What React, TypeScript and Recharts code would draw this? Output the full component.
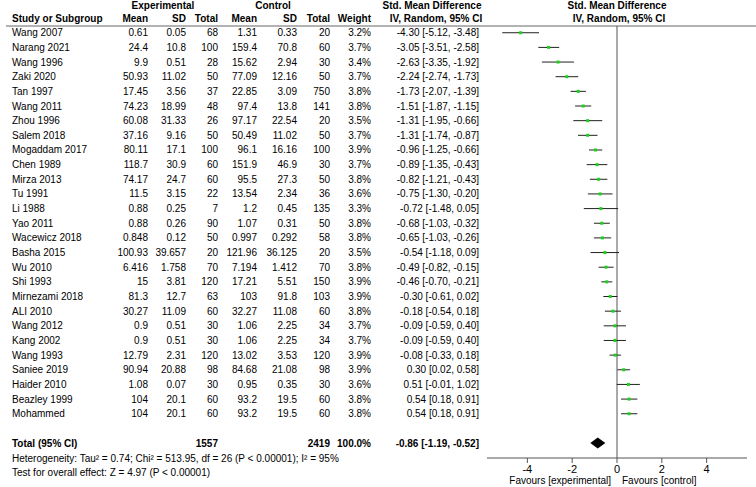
import { ScatterChart, Scatter, XAxis, YAxis, ErrorBar, ReferenceLine } from "recharts";

const studies = ["Wang 2007", "Narang 2021", "Wang 1996", "Zaki 2020", "Tan 1997", "Wang 2011", "Zhou 1996", "Salem 2018", "Mogaddam 2017", "Chen 1989", "Mirza 2013", "Tu 1991", "Li 1988", "Yao 2011", "Wacewicz 2018", "Basha 2015", "Wu 2010", "Shi 1993", "Mirnezami 2018", "ALI 2010", "Wang 2012", "Kang 2002", "Wang 1993", "Saniee 2019", "Haider 2010", "Beazley 1999", "Mohammed"];
const expMean = [0.61, 24.4, 9.9, 50.93, 17.45, 74.23, 60.08, 37.16, 80.11, 118.7, 74.17, 11.5, 0.88, 0.88, 0.848, 100.93, 6.416, 15, 81.3, 30.27, 0.9, 0.9, 12.79, 90.94, 1.08, 104, 104];
const expSD = [0.05, 10.8, 0.51, 11.02, 3.56, 18.99, 31.33, 9.16, 17.1, 30.9, 24.7, 3.15, 0.25, 0.26, 0.12, 39.657, 1.758, 3.81, 12.7, 11.09, 0.51, 0.51, 2.31, 20.88, 0.07, 20.1, 20.1];
const expN = [68, 100, 28, 50, 37, 48, 26, 50, 100, 60, 60, 22, 7, 90, 50, 20, 70, 120, 63, 60, 30, 30, 120, 98, 30, 60, 60];
const ctlMean = [1.31, 159.4, 15.62, 77.09, 22.85, 97.4, 97.17, 50.49, 96.1, 151.9, 95.5, 13.54, 1.2, 1.07, 0.997, 121.96, 7.194, 17.21, 103, 32.27, 1.06, 1.06, 13.02, 84.68, 0.95, 93.2, 93.2];
const ctlSD = [0.33, 70.8, 2.94, 12.16, 3.09, 13.8, 22.54, 11.02, 16.16, 46.9, 27.3, 2.34, 0.45, 0.31, 0.292, 36.125, 1.412, 5.51, 91.8, 11.08, 2.25, 2.25, 3.53, 21.08, 0.35, 19.5, 19.5];
const ctlN = [20, 60, 30, 50, 750, 141, 20, 50, 100, 30, 50, 36, 135, 50, 58, 20, 70, 150, 103, 60, 34, 34, 120, 98, 30, 60, 60];
const weights = [3.2, 3.7, 3.4, 3.7, 3.8, 3.8, 3.5, 3.7, 3.9, 3.7, 3.8, 3.6, 3.3, 3.8, 3.8, 3.5, 3.8, 3.9, 3.9, 3.8, 3.7, 3.7, 3.9, 3.9, 3.6, 3.8, 3.8];
const smd = [-4.3, -3.05, -2.63, -2.24, -1.73, -1.51, -1.31, -1.31, -0.96, -0.89, -0.82, -0.75, -0.72, -0.68, -0.65, -0.54, -0.49, -0.46, -0.3, -0.18, -0.09, -0.09, -0.08, 0.3, 0.51, 0.54, 0.54];
const lower = [-5.12, -3.51, -3.35, -2.74, -2.07, -1.87, -1.95, -1.74, -1.25, -1.35, -1.21, -1.3, -1.48, -1.03, -1.03, -1.18, -0.82, -0.7, -0.61, -0.54, -0.59, -0.59, -0.33, 0.02, -0.01, 0.18, 0.18];
const upper = [-3.48, -2.58, -1.92, -1.73, -1.39, -1.15, -0.66, -0.87, -0.66, -0.43, -0.43, -0.2, 0.05, -0.32, -0.26, 0.09, -0.15, -0.21, 0.02, 0.18, 0.4, 0.4, 0.18, 0.58, 1.02, 0.91, 0.91];

const totalExpN = 1557;
const totalCtlN = 2419;
const totalWeight = 100.0;
const totalSmd = -0.86;
const totalLower = -1.19;
const totalUpper = -0.52;
const totalRow = 28;

const xTicks = [-4, -2, 0, 2, 4];

const FONT = "'Liberation Sans', Arial, sans-serif";
const f2 = (v: number) => v.toFixed(2);

const rows = studies.map((name, i) => ({
  row: i,
  name,
  est: smd[i],
  ci: [smd[i] - lower[i], upper[i] - smd[i]],
  cells: [String(expMean[i]), String(expSD[i]), String(expN[i]), String(ctlMean[i]), String(ctlSD[i]), String(ctlN[i]), weights[i].toFixed(1) + "%", `${f2(smd[i])} [${f2(lower[i])}, ${f2(upper[i])}]`],
}));

const diamond = [
  { row: totalRow, est: totalLower, mid: false },
  { row: totalRow, est: totalSmd, mid: true },
  { row: totalRow, est: totalUpper, mid: false },
];

// right edges of the numeric columns
const colRight = [148, 186, 218, 257, 297, 330, 371, 479];

const StudyRow = (props: any) => {
  const { cx, cy } = props;
  const p = props.payload ?? props;
  return (
    <g fontFamily={FONT} fontSize={10} fill="#000">
      <text x={12} y={cy} dy="0.35em">{p.name}</text>
      {p.cells.map((c: string, k: number) => (
        <text key={k} x={colRight[k]} y={cy} dy="0.35em" textAnchor="end">{c}</text>
      ))}
      <rect x={cx - 1.5} y={cy - 1.5} width={3} height={3} fill="#19d219" />
    </g>
  );
};

const TotalText = (props: any) => {
  const p = props.payload ?? props;
  if (!p.mid) return <g />;
  const cy = props.cy;
  return (
    <g fontFamily={FONT} fontSize={10} fontWeight="bold" fill="#000">
      <text x={12} y={cy} dy="0.35em">Total (95% CI)</text>
      <text x={colRight[2]} y={cy} dy="0.35em" textAnchor="end">{totalExpN}</text>
      <text x={colRight[5]} y={cy} dy="0.35em" textAnchor="end">{totalCtlN}</text>
      <text x={colRight[6]} y={cy} dy="0.35em" textAnchor="end">{totalWeight.toFixed(1)}%</text>
      <text x={colRight[7]} y={cy} dy="0.35em" textAnchor="end">{`${f2(totalSmd)} [${f2(totalLower)}, ${f2(totalUpper)}]`}</text>
    </g>
  );
};

const DiamondShape = (props: any) => {
  const pts = [...(props.points || [])].sort((a: any, b: any) => a.x - b.x);
  if (pts.length < 3) return <g />;
  const [a, b, c] = pts;
  const h = 5.5;
  return <polygon points={`${a.x},${b.y} ${b.x},${b.y - h} ${c.x},${b.y} ${b.x},${b.y + h}`} fill="#000" />;
};

export default function App() {
  return (
    <div style={{ position: "absolute", left: 0, top: 0, background: "#fff" }}>
      <ScatterChart width={756} height={487} margin={{ top: 26, right: 9, left: 487, bottom: 0 }}>
        <XAxis
          type="number"
          dataKey="est"
          domain={[-5.8, 5.8]}
          ticks={xTicks}
          height={29}
          tickSize={5}
          axisLine={{ stroke: "#555" }}
          tickLine={{ stroke: "#555" }}
          tick={{ fill: "#000", fontSize: 11, fontFamily: FONT }}
        />
        <YAxis type="number" dataKey="row" domain={[-0.46, 29.02]} reversed hide width={0} />
        <ReferenceLine x={0} stroke="#555" strokeWidth={1} />
        <Scatter data={rows} shape={StudyRow} isAnimationActive={false}>
          <ErrorBar dataKey="ci" direction="x" width={0} stroke="#222" strokeWidth={1} isAnimationActive={false} />
        </Scatter>
        <Scatter data={diamond} shape={TotalText} line={DiamondShape} isAnimationActive={false} />
        <g fontFamily={FONT} fontSize={10} fill="#000">
          <g fontWeight="bold">
            <text x={163} y={9} textAnchor="middle">Experimental</text>
            <text x={273} y={9} textAnchor="middle">Control</text>
            <text x={432} y={9} textAnchor="middle">Std. Mean Difference</text>
            <text x={617} y={9} textAnchor="middle">Std. Mean Difference</text>
            <text x={12} y={22}>Study or Subgroup</text>
            <text x={148} y={22} textAnchor="end">Mean</text>
            <text x={186} y={22} textAnchor="end">SD</text>
            <text x={218} y={22} textAnchor="end">Total</text>
            <text x={257} y={22} textAnchor="end">Mean</text>
            <text x={297} y={22} textAnchor="end">SD</text>
            <text x={330} y={22} textAnchor="end">Total</text>
            <text x={371} y={22} textAnchor="end">Weight</text>
            <text x={436} y={22} textAnchor="middle">IV, Random, 95% CI</text>
            <text x={619} y={22} textAnchor="middle">IV, Random, 95% CI</text>
          </g>
          <text x={12} y={461.5}>Heterogeneity: Tau² = 0.74; Chi² = 513.95, df = 26 (P &lt; 0.00001); I² = 95%</text>
          <text x={12} y={475.5}>Test for overall effect: Z = 4.97 (P &lt; 0.00001)</text>
          <text x={611} y={483.5} textAnchor="end">Favours [experimental]</text>
          <text x={622} y={483.5}>Favours [control]</text>
        </g>
        <line x1={6} x2={756} y1={26} y2={26} stroke="#666" strokeWidth={1} />
      </ScatterChart>
    </div>
  );
}
